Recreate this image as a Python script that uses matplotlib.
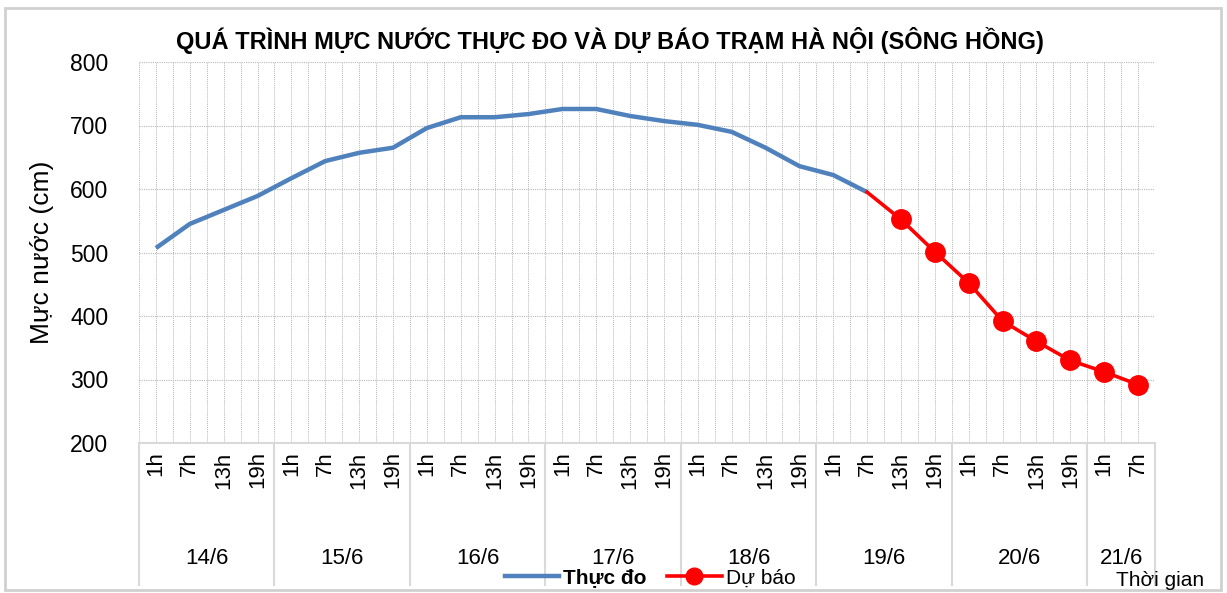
import matplotlib
matplotlib.use('Agg')
import matplotlib.pyplot as plt
from matplotlib.lines import Line2D
from matplotlib.patches import Rectangle
import numpy as np

plt.rcParams['font.family'] = ['Liberation Sans', 'DejaVu Sans']

# du lieu
days = ['14/6', '15/6', '16/6', '17/6', '18/6', '19/6', '20/6', '21/6']
hours_per_day = [4, 4, 4, 4, 4, 4, 4, 2]
hour_names = ['1h', '7h', '13h', '19h']
hour_labels = []
for n in hours_per_day:
    hour_labels += hour_names[:n]

thuc_do = [507, 545, 567, 589,
           617, 644, 657, 665,
           696, 713, 713, 718,
           726, 726, 715, 707,
           701, 690, 665, 636,
           622, 595]
# du bao bat dau tu 19/6 7h
du_bao = [595, 552, 501, 452, 392, 360, 330, 312, 292]

blue = '#4F81BD'
red = '#FF0000'
grid_c = '#b8b8b8'
sep_c = '#d9d9d9'

fig = plt.figure(figsize=(12.27, 5.93), dpi=100)
ax = fig.add_axes([139/1227, 1-443/593, (1155-139)/1227, (443-62)/593])

x_obs = np.arange(len(thuc_do))
x_fc = np.arange(len(thuc_do) - 1, len(thuc_do) - 1 + len(du_bao))

ax.plot(x_obs, thuc_do, color=blue, lw=3.2, solid_capstyle='butt', zorder=3)
ax.plot(x_fc, du_bao, color=red, lw=2.6, marker='o', ms=14,
        markevery=list(range(1, len(du_bao))), zorder=4)

ax.set_xlim(-0.5, len(hour_labels) - 0.5)
ax.set_ylim(200, 800)
ax.set_yticks(range(200, 801, 100))
ax.set_xticks(range(len(hour_labels)))
ax.set_xticklabels(hour_labels, rotation=90, fontsize=16)
ax.set_xticks(np.arange(-0.5, len(hour_labels), 1.0), minor=True)
ax.tick_params(axis='y', labelsize=16.5, length=0, pad=22)
ax.tick_params(axis='x', which='both', length=0, pad=6)

ax.grid(True, which='both', axis='x', color=grid_c, ls=(0, (1, 1)), lw=0.7)
ax.grid(True, which='major', axis='y', color=grid_c, ls=(0, (1, 1)), lw=0.8)

for s in ['top', 'right', 'left']:
    ax.spines[s].set_visible(False)
ax.spines['bottom'].set_color(sep_c)
ax.spines['bottom'].set_linewidth(1.5)

# duong phan cach ngay va nhan ngay
trans = ax.get_xaxis_transform()
pos = -0.5
bounds = [pos]
for d, n in zip(days, hours_per_day):
    ax.text(pos + n / 2, -0.302, d, transform=trans, ha='center', va='center',
            fontsize=16)
    pos += n
    bounds.append(pos)
for b in bounds:
    ax.plot([b, b], [0, -0.373], transform=trans, color=sep_c, lw=1.5,
            clip_on=False)

ax.set_ylabel('Mực nước (cm)', fontsize=19)
ax.yaxis.set_label_coords(-0.084, 0.5)

fig.text(610/1227, 1-40/593, 'QUÁ TRÌNH MỰC NƯỚC THỰC ĐO VÀ DỰ BÁO TRẠM HÀ NỘI (SÔNG HỒNG)',
         ha='center', va='center', fontsize=17, fontweight='bold')

handles = [Line2D([], [], color=blue, lw=3.2),
           Line2D([], [], color=red, lw=2.6, marker='o', ms=12)]
leg = fig.legend(handles, ['Thực đo', 'Dự báo'], ncol=2, loc='center',
                 bbox_to_anchor=(650/1227, 1-578/593), frameon=False,
                 fontsize=15, handlelength=2.6, handletextpad=0.2,
                 columnspacing=1.0, borderpad=0)
leg.get_texts()[0].set_fontweight('bold')

fig.text(1160/1227, 1-581/593, 'Thời gian', ha='center', va='center', fontsize=15)

# khung ngoai
fig.patches.append(Rectangle((5/1227, 3/593), 1216/1227, 582/593,
                             transform=fig.transFigure, fill=False,
                             edgecolor='#d0d0d0', lw=2))

fig.savefig('out.png', dpi=100)
